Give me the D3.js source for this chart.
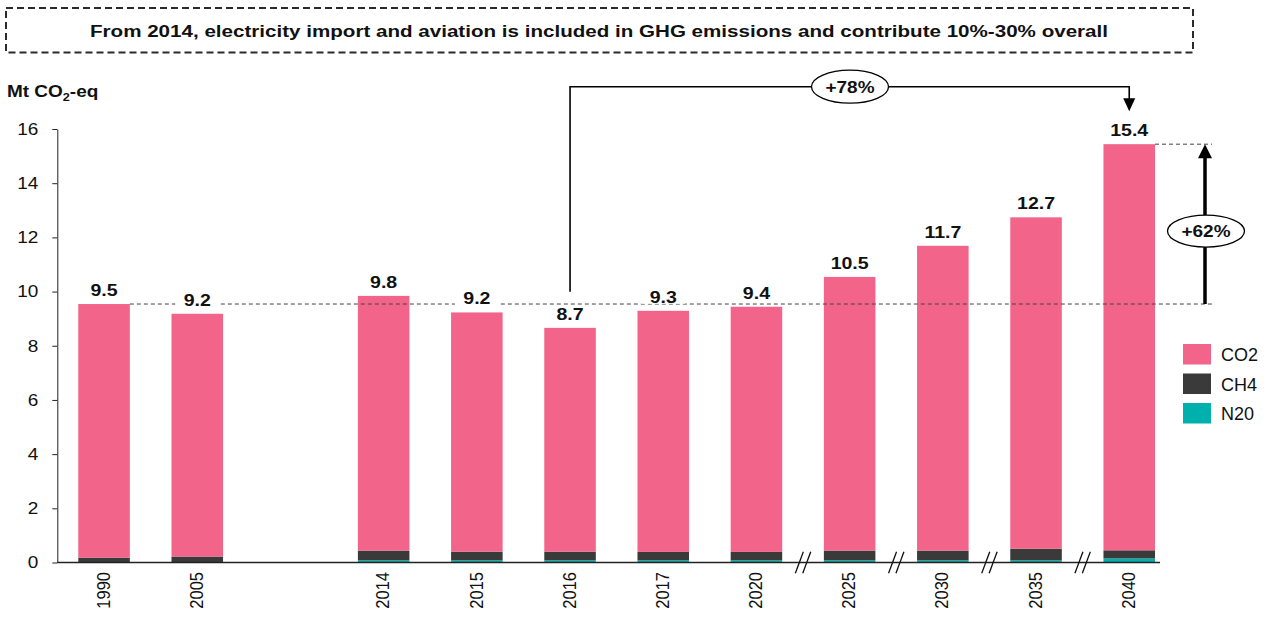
<!DOCTYPE html>
<html>
<head>
<meta charset="utf-8">
<script src="https://cdn.jsdelivr.net/npm/d3@7"></script>
<style>
  html, body { margin: 0; padding: 0; background: #fff; }
  svg { display: block; font-family: "Liberation Sans", Arial, sans-serif; }
</style>
</head>
<body>
<script>
// ---------- data ----------
const years = ["1990", "2005", "2014", "2015", "2016", "2017", "2020", "2025", "2030", "2035", "2040"];
const co2 = [9.36, 8.96, 9.40, 8.83, 8.26, 8.90, 9.05, 10.10, 11.25, 12.23, 14.99];
const ch4 = [0.18, 0.22, 0.36, 0.32, 0.32, 0.31, 0.31, 0.36, 0.36, 0.43, 0.30];
const n2o = [0.00, 0.00, 0.08, 0.08, 0.08, 0.08, 0.08, 0.08, 0.08, 0.08, 0.15];
const yTicks = [0, 2, 4, 6, 8, 10, 12, 14, 16];
const seriesKeys = ["CO2", "CH4", "N20"];
const gapAfter = "2005";                       // empty slot after this year
const breaksAfter = ["2020", "2025", "2030", "2035"];
const titleText = "From 2014,  electricity import and aviation is included in GHG emissions and contribute 10%-30%  overall";
const baseYear = "1990", compareYear = "2016", targetYear = "2040";

// ---------- setup ----------
const W = 1272, H = 617;
const S = 1.15; // horizontal text stretch seen in the reference
const colors = { CO2: "#F2648A", CH4: "#3A3A3A", N20: "#00B0AC" };

const svg = d3.select("body").append("svg").attr("width", W).attr("height", H);

function stext(g, x, y, str, size, bold, anchor) {
  return g.append("text")
    .attr("transform", `translate(${x},${y}) scale(${S},1)`)
    .attr("text-anchor", anchor || "start")
    .attr("font-size", size)
    .attr("font-weight", bold ? "bold" : "normal")
    .attr("fill", "#111")
    .text(str);
}

const rows = years.map((yr, i) => ({ year: yr, CO2: co2[i], CH4: ch4[i], N20: n2o[i], total: co2[i] + ch4[i] + n2o[i] }));
const byYear = Object.fromEntries(rows.map(r => [r.year, r]));

const slots = [];
years.forEach(yr => { slots.push(yr); if (yr === gapAfter) slots.push("gap"); });

const x = d3.scaleBand().domain(slots).range([78.3, 1155]).paddingInner(0.447).paddingOuter(0);
const y = d3.scaleLinear().domain([0, 16]).range([562.5, 129]);
const bw = x.bandwidth();
const step = x.step();
const cx = yr => x(yr) + bw / 2;

// ---------- title box ----------
svg.append("rect")
  .attr("x", 6).attr("y", 8).attr("width", 1187).attr("height", 44.5)
  .attr("fill", "none").attr("stroke", "#2b2b2b").attr("stroke-width", 2)
  .attr("stroke-dasharray", "7,4");
stext(svg, 90, 37, titleText, 16.5, true)
  .attr("textLength", 1018 / S).attr("lengthAdjust", "spacingAndGlyphs");

// ---------- y axis ----------
const yAxis = svg.append("g").attr("transform", "translate(57.3,0)")
  .call(d3.axisLeft(y).tickValues(yTicks).tickSize(5).tickSizeOuter(0).tickPadding(13));
yAxis.select(".domain").attr("stroke", "#222");
yAxis.selectAll(".tick line").attr("stroke", "#222");
yAxis.selectAll(".tick text")
  .attr("font-size", 16.5).attr("fill", "#111")
  .attr("font-family", "Liberation Sans, Arial, sans-serif")
  .attr("x", -19 / S)
  .attr("transform", `scale(${S},1)`);

// y label
const yl = stext(svg, 7, 97, "", 16.5, true);
yl.append("tspan").text("Mt CO");
yl.append("tspan").attr("font-size", 11).attr("dy", 4).text("2");
yl.append("tspan").attr("dy", -4).text("-eq");

// ---------- bars ----------
const stack = d3.stack().keys(["N20", "CH4", "CO2"]);
const stacked = stack(rows);
svg.append("g").selectAll("g").data(stacked).join("g")
  .attr("fill", d => colors[d.key])
  .selectAll("rect").data(d => d).join("rect")
  .attr("x", d => x(d.data.year))
  .attr("width", bw)
  .attr("y", d => y(d[1]))
  .attr("height", d => Math.max(0, y(d[0]) - y(d[1])));

// ---------- x axis ----------
svg.append("line").attr("x1", 57.3).attr("x2", 1160).attr("y1", 562.5).attr("y2", 562.5)
  .attr("stroke", "#222").attr("stroke-width", 1.3);

svg.append("g").selectAll("text").data(years).join("text")
  .attr("transform", d => `translate(${cx(d) - 1},572) scale(${S},1) rotate(-90)`)
  .attr("text-anchor", "end")
  .attr("dy", "0.35em")
  .attr("font-size", 16.5).attr("fill", "#111")
  .text(d => d);

// break marks
const br = svg.append("g").attr("stroke", "#111").attr("stroke-width", 1.3);
breaksAfter.forEach(yr => {
  const mx = x(yr) + bw + (step - bw) / 2;
  [-3.7, 3.7].forEach(off => {
    br.append("line")
      .attr("x1", mx + off - 4).attr("y1", 573.3)
      .attr("x2", mx + off + 4).attr("y2", 551.7);
  });
});

// ---------- reference dashed lines ----------
const baseVal = byYear[baseYear].total;
const tgtVal = byYear[targetYear].total;
const cmpVal = byYear[compareYear].total;

svg.append("line")
  .attr("x1", x(baseYear) + bw).attr("x2", 1212)
  .attr("y1", y(baseVal)).attr("y2", y(baseVal))
  .attr("stroke", "#444").attr("stroke-width", 1).attr("stroke-dasharray", "4,3");
svg.append("line")
  .attr("x1", x(targetYear) + bw).attr("x2", 1212)
  .attr("y1", y(tgtVal)).attr("y2", y(tgtVal))
  .attr("stroke", "#444").attr("stroke-width", 1).attr("stroke-dasharray", "4,3");

// ---------- value labels (with white backing) ----------
const lbl = svg.append("g").selectAll("g").data(rows).join("g");
lbl.append("rect")
  .attr("x", d => cx(d.year) - 22).attr("y", d => y(d.total) - 22)
  .attr("width", 44).attr("height", 15)
  .attr("fill", "#fff");
lbl.each(function (d) {
  stext(d3.select(this), cx(d.year), y(d.total) - 8, d.total.toFixed(1), 17, true, "middle");
});

// ---------- +62% arrow ----------
const ax = x(targetYear) + bw + 50;
svg.append("line")
  .attr("x1", ax).attr("x2", ax)
  .attr("y1", y(baseVal)).attr("y2", y(tgtVal) + 12)
  .attr("stroke", "#000").attr("stroke-width", 3.5);
svg.append("path")
  .attr("d", `M${ax},${y(tgtVal)} L${ax - 7},${y(tgtVal) + 14} L${ax + 7},${y(tgtVal) + 14} Z`)
  .attr("fill", "#000");
const midY = (y(baseVal) + y(tgtVal)) / 2 + 7;
svg.append("ellipse").attr("cx", ax + 1).attr("cy", midY).attr("rx", 38.5).attr("ry", 16)
  .attr("fill", "#fff").attr("stroke", "#000").attr("stroke-width", 1.3);
stext(svg, ax + 1, midY + 6, "+" + Math.round((tgtVal / baseVal - 1) * 100) + "%", 16.5, true, "middle");

// ---------- +78% bracket ----------
const bx1 = cx(compareYear), bx2 = cx(targetYear);
const by = 86.7;
const tipY = y(tgtVal) - 33;
svg.append("path")
  .attr("d", `M${bx1},${y(cmpVal) - 36} L${bx1},${by} L${bx2},${by} L${bx2},${tipY - 12}`)
  .attr("fill", "none").attr("stroke", "#000").attr("stroke-width", 1.6);
svg.append("path")
  .attr("d", `M${bx2},${tipY} L${bx2 - 6},${tipY - 13} L${bx2 + 6},${tipY - 13} Z`)
  .attr("fill", "#000");
svg.append("ellipse").attr("cx", 850).attr("cy", by).attr("rx", 38.5).attr("ry", 16.5)
  .attr("fill", "#fff").attr("stroke", "#000").attr("stroke-width", 1.3);
stext(svg, 850, by + 6, "+" + Math.round((tgtVal / cmpVal - 1) * 100) + "%", 16.5, true, "middle");

// ---------- legend ----------
const lg = svg.append("g").selectAll("g").data(seriesKeys).join("g")
  .attr("transform", (d, i) => `translate(1183,${344 + i * 29.5})`);
lg.append("rect").attr("width", 28).attr("height", 20.5).attr("fill", d => colors[d]);
lg.append("text").attr("x", 38).attr("y", 17).attr("font-size", 18).attr("fill", "#111").text(d => d);
</script>
</body>
</html>
